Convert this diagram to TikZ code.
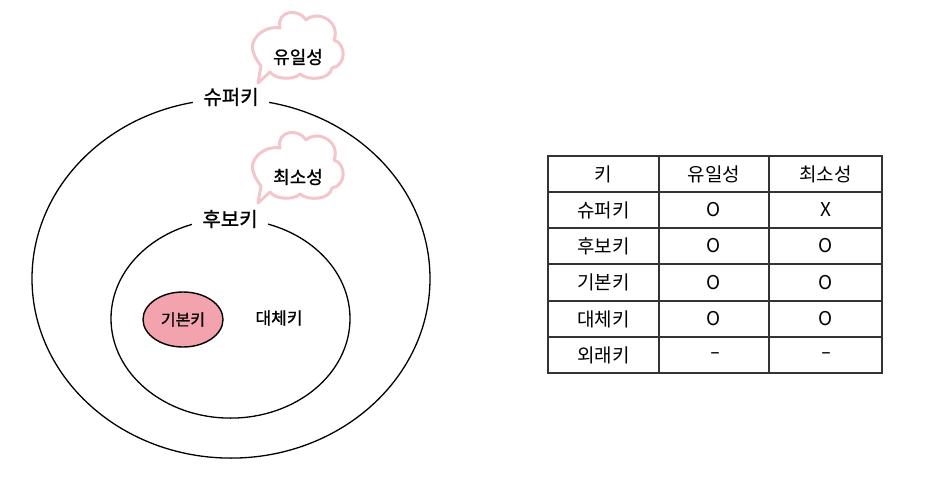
\documentclass[tikz,border=0pt]{standalone}
\usepackage{fontspec}
\setmainfont{Noto Sans CJK KR}
\newfontfamily\handfont[FakeBold=1]{Noto Sans CJK KR}
\newfontfamily\dashfont{DejaVu Sans}
\usetikzlibrary{shapes.geometric}
\definecolor{pinkfill}{HTML}{F2A3AE}
\definecolor{cloudpink}{HTML}{F3C6CC}
\definecolor{tableline}{HTML}{333333}
\tikzset{
  setring/.style={draw=black, line width=1.3pt, ellipse, inner sep=0pt},
  ringlabel/.style={fill=white, inner xsep=10pt, inner ysep=1pt, font=\handfont\fontsize{20}{24}\selectfont},
  bubble/.style={draw=cloudpink, line width=3pt, fill=white, line join=round},
  bubbletext/.style={font=\handfont\fontsize{18}{22}\selectfont},
  cell/.style={font=\fontsize{19}{23}\selectfont, inner sep=0pt},
  dashcell/.style={font=\dashfont\fontsize{19}{23}\selectfont, inner sep=0pt, anchor=base},
  grid/.style={draw=tableline, line width=1.2pt}
}
\newcommand{\bubblepath}{%
  (258,83) -- (270,72)
  .. controls (276,80) and (294,80) .. (300,74)
  .. controls (308,81) and (330,80) .. (332,68)
  .. controls (346,66) and (347,44) .. (334,40)
  .. controls (341,22) and (318,9) .. (306,20)
  .. controls (299,8) and (276,10) .. (280,28)
  .. controls (262,25) and (247,42) .. (254,54)
  .. controls (256,60) and (259,63) .. (261,66)
  -- cycle}
\begin{document}
\begin{tikzpicture}[x=1pt,y=-1pt]
\useasboundingbox[fill=white] (0,0) rectangle (950,503);

% set diagram
\node[setring, minimum width=398pt, minimum height=359pt] (super) at (231,278.6) {};
\node[setring, minimum width=239pt, minimum height=199pt] (cand) at (230.5,318.6) {};
\node[setring, line width=1.4pt, fill=pinkfill, minimum width=80pt, minimum height=55pt] (primary) at (183,319.5) {};
\node[font=\handfont\fontsize{16}{20}\selectfont] (primarytxt) at (primary.center) {기본키};
\node[font=\handfont\fontsize{17}{20}\selectfont] (alt) at (279,318) {대체키};

\node[ringlabel] (superlbl) at (231,97) {슈퍼키};
\node[ringlabel] (candlbl) at (230,219) {후보키};

% speech bubbles
\path[bubble] \bubblepath;
\node[bubbletext] (uniq) at (298,57) {유일성};
\begin{scope}[yshift=-120pt]
\path[bubble] \bubblepath;
\end{scope}
\node[bubbletext] (minim) at (298,177) {최소성};

% table
\draw[grid] (548,156) rectangle (882,373);
\foreach \yy in {192,228,264,301,337} \draw[grid] (548,\yy) -- (882,\yy);
\foreach \xx in {659,769} \draw[grid] (\xx,156) -- (\xx,373);

\node[cell] (h1) at (603.5,174) {키};
\node[cell] (h2) at (714,174) {유일성};
\node[cell] (h3) at (825.5,174) {최소성};
\node[cell] (r1a) at (603.5,210) {슈퍼키};
\node[cell] (r1b) at (714,210) {O};
\node[cell] (r1c) at (825.5,210) {X};
\node[cell] (r2a) at (603.5,246) {후보키};
\node[cell] (r2b) at (714,246) {O};
\node[cell] (r2c) at (825.5,246) {O};
\node[cell] (r3a) at (603.5,282.5) {기본키};
\node[cell] (r3b) at (714,282.5) {O};
\node[cell] (r3c) at (825.5,282.5) {O};
\node[cell] (r4a) at (603.5,319) {대체키};
\node[cell] (r4b) at (714,319) {O};
\node[cell] (r4c) at (825.5,319) {O};
\node[cell] (r5a) at (603.5,355) {외래키};
\node[dashcell] (r5b) at (715,358) {–};
\node[dashcell] (r5c) at (826,358) {–};
\end{tikzpicture}
\end{document}
